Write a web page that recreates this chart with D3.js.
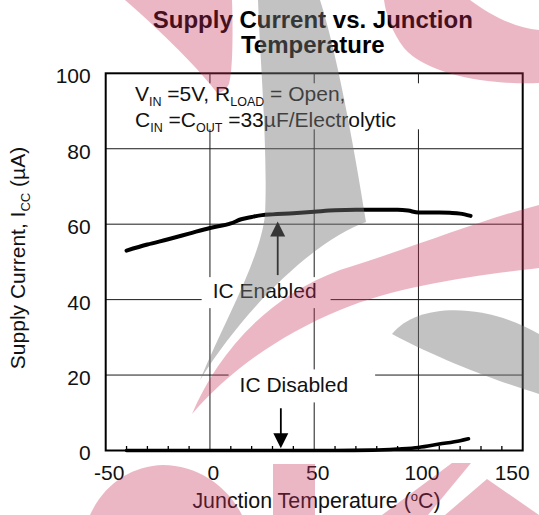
<!DOCTYPE html>
<html><head><meta charset="utf-8">
<script src="https://cdn.jsdelivr.net/npm/d3@7"></script>
<style>
html,body{margin:0;padding:0;background:#fff;}
svg{display:block;font-family:"Liberation Sans",Arial,sans-serif;}
</style></head>
<body>
<svg id="c" width="539" height="515"></svg>
<script>
// ---- data ----
const xTicks = [-50, 0, 50, 100, 150];
const yTicks = [0, 20, 40, 60, 80, 100];
const minorXTicks = [-40,-30,-20,-10,10,20,30,40,60,70,80,90,110,120,130,140];
const enabledTemp = [-40, -30, -20, -10, 0, 10, 15, 20, 25, 30, 40, 50, 60, 70, 80, 90, 95, 100, 110, 115, 120, 125];
const enabledIcc  = [53.0, 54.6, 56.0, 57.5, 59.0, 60.2, 61.3, 61.9, 62.4, 62.6, 62.9, 63.3, 63.7, 63.8, 63.8, 63.8, 63.6, 63.1, 63.1, 63.0, 62.8, 62.2];
const disabledTemp = [-40, -20, 0, 20, 40, 60, 78, 90, 100, 110, 120, 124];
const disabledIcc  = [0, 0, 0, 0, 0, 0, 0.1, 0.4, 0.8, 1.7, 2.6, 3.1];
const labelEnabled = "IC Enabled";
const labelDisabled = "IC Disabled";
// arrows: [x, yFrom, yTo] in data units
const arrowEnabled = [32.5, 46.5, 60.7];
const arrowDisabled = [34, 11.2, 0.6];
// text label anchor points (data units)
const posEnabled = [1.3, 40];
const posDisabled = [14.2, 15];

const W = 539, H = 515;
const svg = d3.select("#c");
const FONT = 21;
const x = d3.scaleLinear().domain([-50, 150]).range([105.7, 522.7]);
const y = d3.scaleLinear().domain([0, 100]).range([450.5, 73.3]);

svg.append("rect").attr("width", W).attr("height", H).attr("fill", "#fff");

// gridlines
const grid = svg.append("g").attr("stroke", "#1a1a1a").attr("stroke-width", 1);
grid.selectAll(".gx").data(xTicks.filter(d => d > -50 && d < 150)).join("line")
  .attr("x1", d => x(d)).attr("x2", d => x(d)).attr("y1", y(100)).attr("y2", y(0));
grid.selectAll(".gy").data(yTicks.filter(d => d > 0 && d < 100)).join("line")
  .attr("y1", d => y(d)).attr("y2", d => y(d)).attr("x1", x(-50)).attr("x2", x(150));

// condition annotation box + text
const cond = svg.append("g");
cond.append("rect").attr("x", 118).attr("y", y(100)).attr("width", 312).attr("height", 56).attr("fill", "#fff");
const t1 = cond.append("text").attr("x", 135).attr("y", 100.5).attr("font-size", FONT).attr("fill", "#111");
t1.append("tspan").text("V");
t1.append("tspan").attr("font-size", 12.5).attr("dy", 5.5).text("IN");
t1.append("tspan").attr("dy", -5.5).text(" =5V, R");
t1.append("tspan").attr("font-size", 12.5).attr("dy", 5.5).text("LOAD");
t1.append("tspan").attr("dy", -5.5).text(" = Open,");
const t2 = cond.append("text").attr("x", 135).attr("y", 126.5).attr("font-size", FONT).attr("fill", "#111");
t2.append("tspan").text("C");
t2.append("tspan").attr("font-size", 12.5).attr("dy", 5.5).text("IN");
t2.append("tspan").attr("dy", -5.5).text(" =C");
t2.append("tspan").attr("font-size", 12.5).attr("dy", 5.5).text("OUT");
t2.append("tspan").attr("dy", -5.5).text(" =33\u00B5F/Electrolytic");

// label boxes
function labelBox(txt, pos, padL, padR, top, bottom) {
  const g = svg.append("g");
  const r = g.append("rect").attr("fill", "#fff");
  const t = g.append("text").attr("x", x(pos[0])).attr("y", y(pos[1]) - 1.5)
    .attr("font-size", FONT).attr("fill", "#111").text(txt);
  const bb = t.node().getBBox();
  r.attr("x", bb.x - padL).attr("width", bb.width + padL + padR)
   .attr("y", bb.y - top).attr("height", bb.height + top + bottom);
}
labelBox(labelEnabled, posEnabled, 11, 14, 2, 6);
labelBox(labelDisabled, posDisabled, 11, 27, 4, 6);

// frame
svg.append("rect").attr("x", x(-50)).attr("y", y(100)).attr("width", x(150) - x(-50)).attr("height", y(0) - y(100))
  .attr("fill", "none").attr("stroke", "#000").attr("stroke-width", 2);
// top major ticks
svg.append("g").selectAll("line").data(xTicks.filter(d => d > -50 && d < 150)).join("line")
  .attr("x1", d => x(d)).attr("x2", d => x(d)).attr("y1", y(100)).attr("y2", y(100) + 10)
  .attr("stroke", "#1a1a1a").attr("stroke-width", 1);
// bottom minor ticks
svg.append("g").selectAll("line").data(minorXTicks).join("line")
  .attr("x1", d => x(d)).attr("x2", d => x(d)).attr("y1", y(0)).attr("y2", y(0) - 4.5)
  .attr("stroke", "#000").attr("stroke-width", 1.3);

// axes (labels only)
const fmt = d => String(d);
const ax = svg.append("g").attr("transform", `translate(0,${y(0)})`)
  .call(d3.axisBottom(x).tickValues(xTicks).tickSize(0).tickPadding(14.6).tickFormat(fmt));
ax.select(".domain").remove();
ax.selectAll("text").attr("font-size", FONT).attr("font-family", "Liberation Sans, Arial, sans-serif").attr("fill", "#111")
  .attr("dx", d => d === 150 ? -11 : 3);
const ay = svg.append("g").attr("transform", `translate(${x(-50)},0)`)
  .call(d3.axisLeft(y).tickValues(yTicks).tickSize(0).tickPadding(15).tickFormat(fmt));
ay.select(".domain").remove();
ay.selectAll("text").attr("font-size", FONT).attr("font-family", "Liberation Sans, Arial, sans-serif").attr("fill", "#111")
  .attr("dy", "0.45em");

// curves
const line = d3.line().x(d => x(d[0])).y(d => y(d[1])).curve(d3.curveMonotoneX);
svg.append("path").datum(enabledTemp.map((t, i) => [t, enabledIcc[i]]))
  .attr("d", line).attr("fill", "none").attr("stroke", "#000").attr("stroke-width", 4).attr("stroke-linecap", "round");
svg.append("path").datum(disabledTemp.map((t, i) => [t, disabledIcc[i]]))
  .attr("d", line).attr("fill", "none").attr("stroke", "#000").attr("stroke-width", 3.6).attr("stroke-linecap", "round");

// arrows
function arrow(a) {
  const ax0 = x(a[0]), y0 = y(a[1]), y1 = y(a[2]);
  const dir = y1 < y0 ? 1 : -1; // head points toward y1
  const hl = 15, hw = 7.5;
  svg.append("line").attr("x1", ax0).attr("x2", ax0).attr("y1", y0).attr("y2", y1 + dir * hl * 0.6)
    .attr("stroke", "#000").attr("stroke-width", 1.8);
  svg.append("path").attr("d", `M${ax0},${y1} L${ax0 - hw},${y1 + dir * hl} L${ax0 + hw},${y1 + dir * hl} Z`)
    .attr("fill", "#000");
}
arrow(arrowEnabled);
arrow(arrowDisabled);

// title
const title = svg.append("text").attr("x", 312.8).attr("text-anchor", "middle").attr("font-weight", "bold")
  .attr("font-size", 24).attr("fill", "#000");
title.append("tspan").attr("x", 312.8).attr("y", 28.3).text("Supply Current vs. Junction");
title.append("tspan").attr("x", 312.8).attr("y", 53.3).text("Temperature");

// x axis title
const xt = svg.append("text").attr("x", 316.5).attr("y", 508.3).attr("text-anchor", "middle")
  .attr("font-size", 21.4).attr("fill", "#111");
xt.append("tspan").text("Junction Temperature (");
xt.append("tspan").attr("font-size", 13).attr("dy", -7).text("o");
xt.append("tspan").attr("dy", 7).text("C)");

// y axis title
const yt = svg.append("text").attr("transform", "translate(25,258) rotate(-90)").attr("text-anchor", "middle")
  .attr("font-size", FONT).attr("fill", "#111");
yt.append("tspan").text("Supply Current, I");
yt.append("tspan").attr("font-size", 13).attr("dy", 5).text("CC");
yt.append("tspan").attr("dy", -5).text(" (\u00B5A)");

// watermark overlay (decorative background logo)
const pink = "rgba(200,50,90,0.35)", gray = "rgba(120,120,120,0.45)";
const wm = svg.append("g");
const wmShapes = [
  [pink, "M125,0 L232,0 C233,30 233,70 229,84 C226,90 221,93 217,93 C200,70 165,35 125,0 Z"],
  [gray, "M258,0 L320,0 C336,50 353,140 366,222 C320,238 250,300 200,380 C225,320 260,260 265,215 C268,150 260,60 258,0 Z"],
  [gray, "M392,334 C420,300 490,305 539,334 L539,394 C510,385 450,365 392,334 Z"],
  [pink, "M384,0 L470,0 C490,15 515,28 539,30 L539,83 C500,85 430,78 404,48 C392,32 386,15 384,0 Z"],
  [pink, "M192,414 C215,360 260,300 340,270 C420,245 480,220 539,205 L539,268 C480,275 400,285 340,310 C280,335 230,370 192,414 Z"],
  [pink, "M90,515 C105,482 133,466 163,465 C198,465 228,487 242,515 Z"],
  [pink, "M273,464 L315,464 L315,515 L273,515 Z"],
  [pink, "M382,515 L452,463 L471,463 L428,515 Z"],
  [pink, "M445,515 L487,479 L539,515 Z"]
];
wm.selectAll("path").data(wmShapes).join("path").attr("d", d => d[1]).attr("fill", d => d[0]);
</script>
</body></html>
